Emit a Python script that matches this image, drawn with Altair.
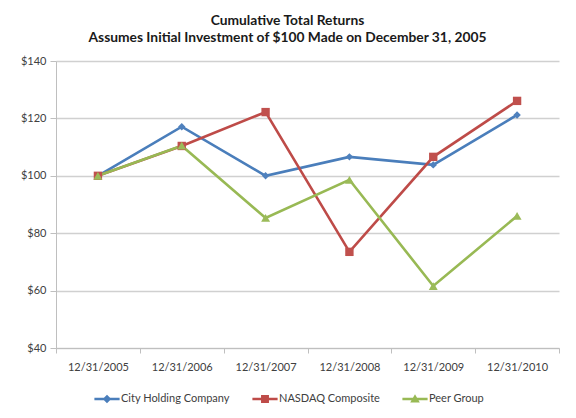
import altair as alt
import pandas as pd

dates = ["12/31/2005", "12/31/2006", "12/31/2007", "12/31/2008", "12/31/2009", "12/31/2010"]
city = [100.0, 117.1, 100.0, 106.6, 103.8, 121.2]
nasdaq = [100.0, 110.4, 122.2, 73.5, 106.6, 126.1]
peer = [100.0, 110.5, 85.3, 98.6, 61.6, 86.0]
series_names = ["City Holding Company", "NASDAQ Composite", "Peer Group"]
line_colors = ["#4A7EBB", "#BE4B48", "#98B954"]
marker_colors = ["#4F81BD", "#C0504D", "#9BBB59"]
marker_shapes = ["diamond", "square", "triangle-up"]
marker_sizes = [55, 70, 80]
y_ticks = [40, 60, 80, 100, 120, 140]

rows = []
for name, vals in zip(series_names, [city, nasdaq, peer]):
    for d, v in zip(dates, vals):
        rows.append({"date": d, "series": name, "value": v})
df = pd.DataFrame(rows)

# legend symbols: a line segment with the marker on it
bar = "M-1.05,-0.1H1.05V0.1H-1.05Z "
legend_paths = [
    bar + "M0,-0.36L0.36,0L0,0.36L-0.36,0Z",
    bar + "M-0.33,-0.33H0.33V0.33H-0.33Z",
    bar + "M0,-0.4L0.4,0.3L-0.4,0.3Z",
]

FONT = "Lato"
AX = "#BFBFBF"
LBL = "#404040"

x = alt.X(
    "date:O",
    sort=dates,
    bandPosition=0.5,
    scale=alt.Scale(type="band", domain=dates, paddingInner=0, paddingOuter=0),
    axis=alt.Axis(
        title=None, labelAngle=0, tickBand="extent", grid=False,
        domainColor=AX, tickColor=AX, tickSize=5, labelPadding=8,
        labelFont=FONT, labelFontSize=11, labelColor=LBL,
    ),
)
y = alt.Y(
    "value:Q",
    scale=alt.Scale(domain=[40, 140], nice=False, zero=False),
    axis=alt.Axis(
        title=None, values=y_ticks, labelExpr="'$' + datum.value",
        grid=True, gridColor="#D0D0D0", gridWidth=1.3,
        domainColor=AX, tickColor=AX, tickSize=6, labelPadding=4,
        labelFont=FONT, labelFontSize=11, labelColor=LBL,
    ),
)

color_scale = alt.Scale(domain=series_names, range=line_colors)

legend_props = dict(
    title=None, orient="none", legendX=39, legendY=326, direction="horizontal",
    symbolSize=576, symbolOpacity=1, symbolStrokeWidth=0, labelOffset=2,
    columnPadding=22, padding=0, labelFont=FONT, labelFontSize=11, labelColor=LBL,
)

base = alt.Chart(df)

legend_layer = base.mark_point(filled=True, opacity=0).encode(
    x=x, y=y,
    color=alt.Color("series:N", scale=color_scale, sort=series_names, legend=alt.Legend(**legend_props)),
    shape=alt.Shape("series:N", scale=alt.Scale(domain=series_names, range=legend_paths),
                    sort=series_names, legend=alt.Legend(**legend_props)),
)

lines = base.mark_line(strokeWidth=2.6).encode(
    x=x, y=y,
    color=alt.Color("series:N", scale=color_scale, legend=None),
    detail="series:N",
)

layers = [legend_layer, lines]
for name, mc, shp, sz in zip(series_names, marker_colors, marker_shapes, marker_sizes):
    layers.append(
        base.transform_filter(alt.datum.series == name)
        .mark_point(filled=True, shape=shp, size=sz, color=mc, opacity=1)
        .encode(x=x, y=y)
    )

chart = alt.layer(*layers).properties(
    width=503,
    height=287,
    autosize=alt.AutoSizeParams(type="none"),
    padding={"left": 48, "top": 53, "right": 9, "bottom": 62},
    title=alt.Title(
        ["Cumulative Total Returns", "Assumes Initial Investment of $100 Made on December 31, 2005"],
        font=FONT, fontSize=13.8, fontWeight="bold", color="#1A1A1A",
        anchor="middle", dx=-20, offset=10, lineHeight=17,
    ),
).configure_view(stroke=None)

chart.save("out.html", embed_options={"renderer": "svg", "actions": False})
